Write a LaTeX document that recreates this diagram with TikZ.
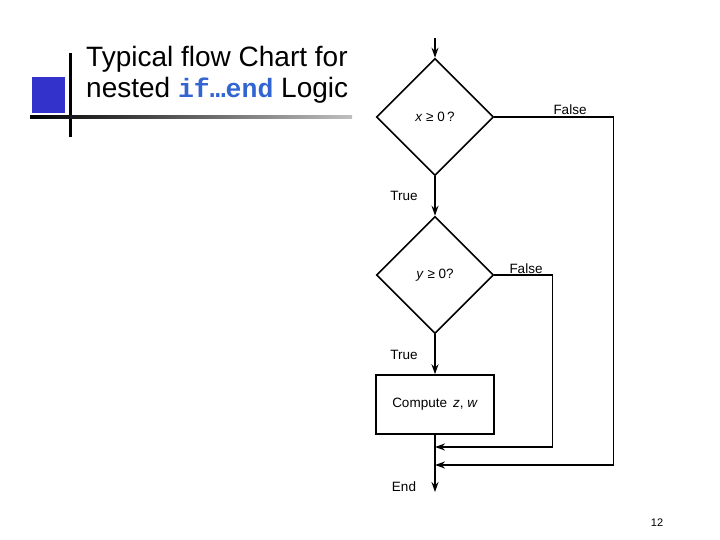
\documentclass[tikz,border=0pt]{standalone}
\usepackage{fontspec}
\setmainfont{Liberation Sans}
\setmonofont{Liberation Mono}
\usepackage{tikz}
\usetikzlibrary{arrows.meta,positioning,calc,shapes.geometric}

\definecolor{slideblue}{RGB}{51,51,204}
\definecolor{codeblue}{RGB}{50,100,210}

\begin{document}
\begin{tikzpicture}[x=1pt,y=-1pt,>={Stealth[length=10pt,width=7pt]},
  every node/.style={inner sep=1pt,font=\fontsize{13.5}{16}\selectfont},
  decision/.style={diamond,draw,line width=1.6pt,minimum width=117pt,minimum height=117pt,inner sep=0pt},
  process/.style={rectangle,draw,line width=1.6pt,minimum width=118pt,minimum height=59pt},
  flow/.style={line width=1.6pt}]
  \useasboundingbox (0,0) rectangle (720,540);

  % slide header
  \fill[slideblue] (32,77) rectangle (65,113);
  \draw[line width=3pt] (70,53) -- (70,137);
  \shade[left color=black,right color=black!25] (30,115.5) rectangle (352,118.5);
  \node[anchor=base west,inner sep=0pt,font=\fontsize{28}{34}\selectfont] (title1) at (86,67) {Typical flow Chart for};
  \node[anchor=base west,inner sep=0pt,font=\fontsize{28}{34}\selectfont] (title2) at (86,98)
    {nested \textcolor{codeblue}{\bfseries\ttfamily\fontsize{26.5}{34}\selectfont if…end} Logic};

  % flow chart
  \node[decision] (xtest) at (435,117) {\textit{x} ≥ 0\,?};
  \node[decision] (ytest) at (435,275) {\textit{y} ≥ 0?};
  \node[process] (comp) at (435,404.5) {Compute \,\textit{z}, \textit{w}};

  \coordinate (start) at (435,38);
  \coordinate (join1) at (435,447);
  \coordinate (join2) at (435,465);
  \coordinate (stop) at (435,492);

  \draw[flow,->] (start) -- (xtest.north);
  \draw[flow,->] (xtest.south) -- (ytest.north);
  \draw[flow,->] (ytest.south) -- (comp.north);
  \draw[flow,->] (comp.south) -- (stop);
  \draw[flow,->] (ytest.east) -- ++(58,0) |- (join1);
  \draw[flow,->] (xtest.east) -- ++(119,0) |- (join2);

  \node (xfalse) at (570,110) {False};
  \node (yfalse) at (526,269) {False};
  \node (xtrue) at (404,196) {True};
  \node (ytrue) at (404,355) {True};
  \node (endlbl) at (404,487) {End};

  \node[font=\fontsize{11}{13}\selectfont] (pagenum) at (657,523) {12};
\end{tikzpicture}
\end{document}
